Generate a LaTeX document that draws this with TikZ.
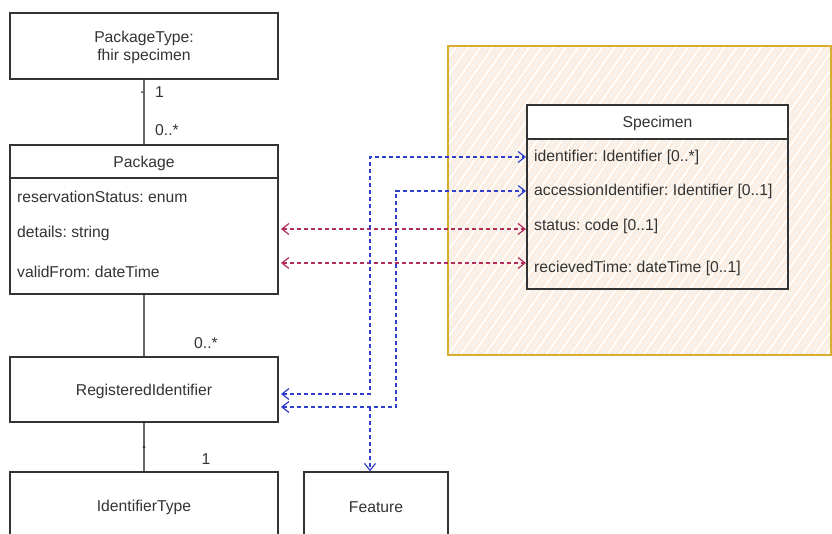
\documentclass[tikz,border=0pt]{standalone}
\usepackage{fontspec}
\setmainfont{Liberation Sans}
\usetikzlibrary{arrows.meta,patterns.meta}
\frenchspacing
\definecolor{ink}{HTML}{333333}
\definecolor{wire}{HTML}{666666}
\definecolor{linkblue}{HTML}{2F3FCC}
\definecolor{linkred}{HTML}{B32D5C}
\definecolor{framegold}{HTML}{D9AE2E}
\definecolor{framefill}{HTML}{FBEEE1}
\definecolor{hatchgrey}{HTML}{E2DCD6}
\tikzset{
  barb/.tip={Straight Barb[length=7pt, width=11pt, line width=1.2pt]},
  box/.style={draw=ink, line width=1.3pt, fill=white, text=ink, align=center, inner sep=0pt, text depth=0pt},
  attr/.style={anchor=west, text=ink, inner sep=0pt},
  mult/.style={text=ink, inner sep=0pt},
  conn/.style={draw=wire, line width=2pt},
  bluelink/.style={draw=linkblue, line width=1.2pt, dash pattern=on 4pt off 3pt, barb-barb},
  redlink/.style={draw=linkred, line width=1.2pt, dash pattern=on 4pt off 3pt, barb-barb},
  downlink/.style={draw=linkblue, line width=1.2pt, dash pattern=on 4pt off 3pt, -barb},
}
\begin{document}
\begin{tikzpicture}[x=1pt, y=-1pt, font=\fontsize{15.7}{18.5}\selectfont]
\useasboundingbox (0,0) rectangle (832,533);
\clip (0,0) rectangle (832,533);
\fill[white] (0,0) rectangle (832,533);

% hatched background frame behind the Specimen class
\fill[framefill] (448,46) rectangle (831,355);
\fill[pattern={Lines[angle=55, distance=5pt, line width=1.8pt]}, pattern color=white] (448,46) rectangle (831,355);
\fill[pattern={Lines[angle=55, distance=10pt, line width=0.4pt]}, pattern color=hatchgrey] (448,46) rectangle (831,355);
\draw[framegold, line width=2pt] (448,46) rectangle (831,355);

% Specimen class: white header, transparent body
\node[box, minimum width=261pt, minimum height=34pt] (spechead) at (657.5,122) {Specimen};
\node[draw=ink, line width=1.3pt, minimum width=261pt, minimum height=150pt, inner sep=0pt] (specbody) at (657.5,214) {};
\node[attr] (sid) at (534,157) {identifier: Identifier [0..*]};
\node[attr] (sacc) at (534,191) {accessionIdentifier: Identifier [0..1]};
\node[attr] (sstat) at (534,226) {status: code [0..1]};
\node[attr] (srec) at (534,268) {recievedTime: dateTime [0..1]};

% left column of classes
\node[box, minimum width=268pt, minimum height=66pt] (ptype) at (144,46) {PackageType:\\fhir specimen};
\node[box, minimum width=268pt, minimum height=33pt] (pkghead) at (144,161.5) {Package};
\node[box, minimum width=268pt, minimum height=116pt] (pkgbody) at (144,236) {};
\node[attr] (prs) at (17,197) {reservationStatus: enum};
\node[attr] (pdet) at (17,233) {details: string};
\node[attr] (pval) at (17,272) {validFrom: dateTime};
\node[box, minimum width=268pt, minimum height=65pt] (regid) at (144,389.5) {RegisteredIdentifier};
\node[box, minimum width=268pt, minimum height=68pt] (idtype) at (144,506) {IdentifierType};
\node[box, minimum width=144pt, minimum height=70pt] (feature) at (376,507) {Feature};

% associations with multiplicities
\draw[conn] (ptype.south) -- (pkghead.north);
\node[mult, anchor=west] (m1) at (155,92) {1};
\node[mult, anchor=west] (m2) at (155,130) {0..*};
\fill[ink] (142,92) circle (1pt);
\draw[conn] (pkgbody.south) -- (regid.north);
\node[mult] (m3) at (206,343) {0..*};
\draw[conn] (regid.south) -- (idtype.north);
\node[mult] (m4) at (206,459) {1};
\fill[ink] (144,447) circle (1.5pt);

% mapping ports on class edges
\coordinate (pdetR) at (281,229);
\coordinate (pvalR) at (281,263);
\coordinate (sstatL) at (526,229);
\coordinate (srecL) at (526,263);
\coordinate (sidL) at (526,157);
\coordinate (saccL) at (526,191);
\coordinate (regA) at (281,394);
\coordinate (regB) at (281,407);
\coordinate (split) at (370,407);

% attribute mappings
\draw[redlink] (pdetR) -- (sstatL);
\draw[redlink] (pvalR) -- (srecL);
\draw[bluelink] (regA) -- (370,394) |- (sidL);
\draw[bluelink] (regB) -- (396,407) |- (saccL);
\draw[downlink] (split) -- (split |- feature.north);
\end{tikzpicture}
\end{document}
